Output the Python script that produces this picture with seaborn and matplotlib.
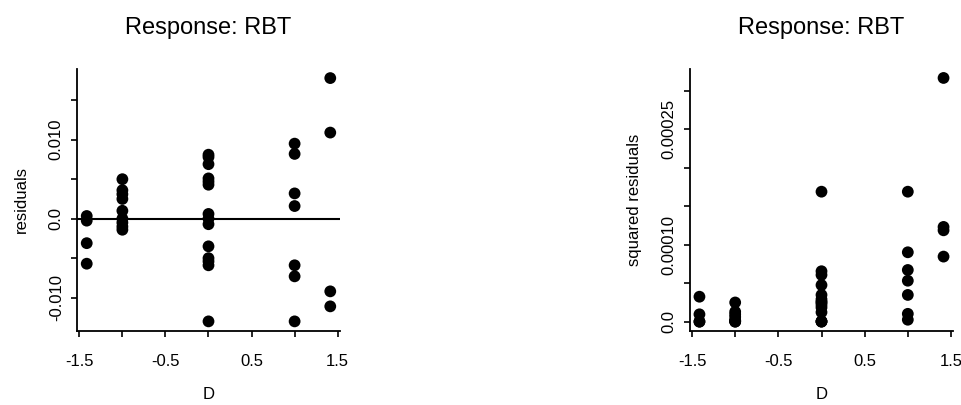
import numpy as np
import pandas as pd
import matplotlib
matplotlib.use("Agg")
import matplotlib.pyplot as plt
import seaborn as sns

# design points (D) and residuals
d_levels = [-1.414, -1.0, 0.0, 1.0, 1.414]
resid_m141 = [0.00034, -0.00025, -0.0031, -0.0057]
resid_m1 = [0.0050, 0.0036, 0.0031, 0.0025, 0.0010, 0.0000, -0.0005, -0.0010, -0.0014]
resid_0 = [0.0081, 0.0078, 0.0069, 0.0051, 0.0047, 0.0043, 0.0006, 0.0000,
           -0.0007, -0.0035, -0.0050, -0.0054, -0.0059, -0.0130]
resid_1 = [0.0095, 0.0082, 0.0032, 0.0016, -0.0059, -0.0073, -0.0130]
resid_p141 = [0.0178, 0.0109, -0.0092, -0.0111]

x_ticks = [-1.5, -1.0, -0.5, 0.0, 0.5, 1.0, 1.5]
x_ticklabels = ["-1.5", "", "-0.5", "", "0.5", "", "1.5"]
y1_ticks = [-0.010, -0.005, 0.0, 0.005, 0.010, 0.015]
y1_ticklabels = ["-0.010", "", "0.0", "", "0.010", ""]
y2_ticks = [0.0, 0.00005, 0.00010, 0.00015, 0.00020, 0.00025, 0.00030]
y2_ticklabels = ["0.0", "", "0.00010", "", "", "0.00025", ""]

groups = [resid_m141, resid_m1, resid_0, resid_1, resid_p141]
df = pd.DataFrame({
    "D": np.concatenate([[d] * len(g) for d, g in zip(d_levels, groups)]),
    "resid": np.concatenate(groups),
})
df["sq"] = df["resid"] ** 2

sns.set_style("ticks")
plt.rcParams["font.family"] = ["Liberation Sans", "DejaVu Sans"]
plt.rcParams["axes.unicode_minus"] = False
plt.rcParams["text.color"] = "black"
plt.rcParams["axes.labelcolor"] = "black"

fig = plt.figure(figsize=(9.62, 4.05), dpi=100)
W, H = 962, 405
ax1 = fig.add_axes([77 / W, (H - 331.4) / H, 263 / W, 262.8 / H])
ax2 = fig.add_axes([689.7 / W, (H - 331.4) / H, 263.6 / W, 262.8 / H])


def style_axes(ax, yticks, yticklabels, ylabel):
    ax.set_xlim(-1.527, 1.527)
    ax.set_xticks(x_ticks)
    ax.set_xticklabels(x_ticklabels)
    ax.set_yticks(yticks)
    ax.set_yticklabels(yticklabels, rotation=90, va="center")
    for s in ["top", "right"]:
        ax.spines[s].set_visible(False)
    for s in ["left", "bottom"]:
        ax.spines[s].set_linewidth(1.3)
        ax.spines[s].set_color("black")
    ax.tick_params(axis="x", length=4.5, width=1.2, pad=12, labelsize=12, colors="black")
    ax.tick_params(axis="y", length=4.5, width=1.2, pad=5, labelsize=12, colors="black")
    ax.set_xlabel("D", fontsize=12, labelpad=13, color="black")
    ax.set_ylabel(ylabel, fontsize=12, labelpad=14, color="black")
    ax.set_title("Response: RBT", fontsize=17, pad=25, color="black")


sns.scatterplot(data=df, x="D", y="resid", ax=ax1, color="black", s=72, edgecolor="none")
ax1.axhline(0, color="black", lw=1.5)
ax1.set_ylim(-0.01427, 0.0190)
style_axes(ax1, y1_ticks, y1_ticklabels, "residuals")

sns.scatterplot(data=df, x="D", y="sq", ax=ax2, color="black", s=72, edgecolor="none")
ax2.set_ylim(-0.0000126, 0.000329)
style_axes(ax2, y2_ticks, y2_ticklabels, "squared residuals")

fig.savefig("out.png", dpi=100)
